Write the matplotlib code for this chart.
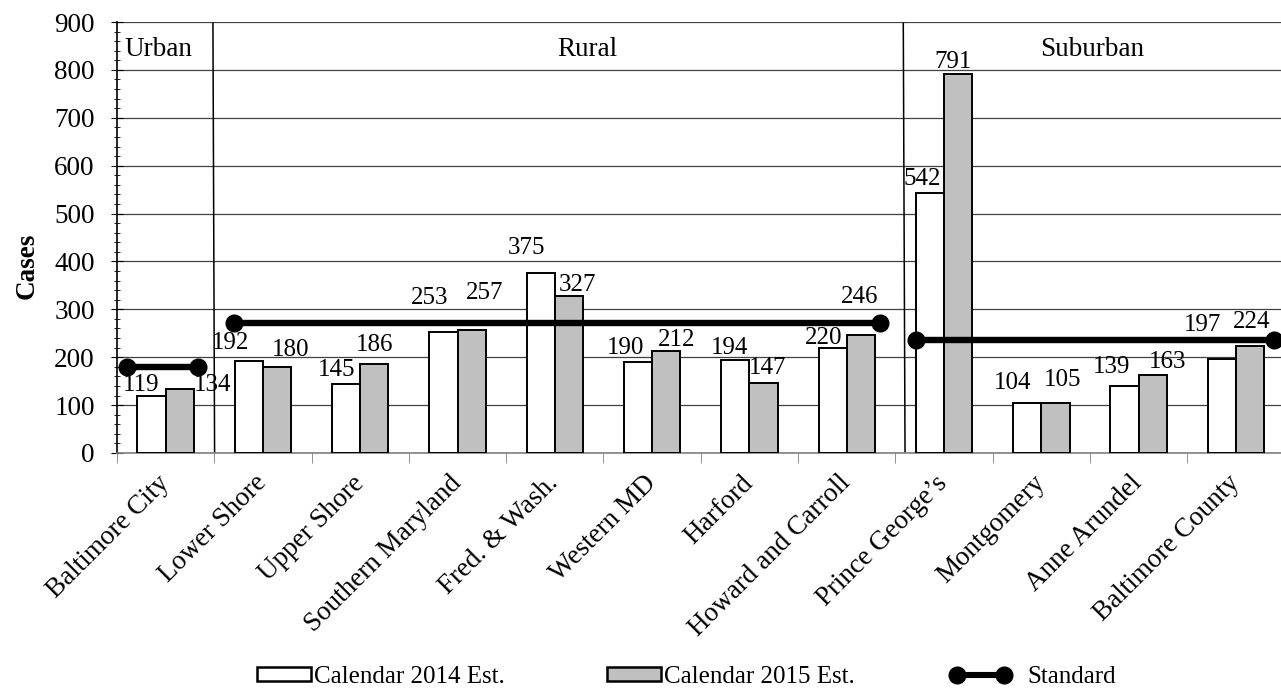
import numpy as np
import matplotlib
matplotlib.use("Agg")
import matplotlib.pyplot as plt
from matplotlib.patches import Patch
from matplotlib.lines import Line2D

plt.rcParams['font.family'] = ['Liberation Serif', 'DejaVu Serif']
FS_TICK = 19.5   # axis tick labels and group titles
FS_LABEL = 18    # value labels and legend

# --- data ---
regions = ["Baltimore City", "Lower Shore", "Upper Shore", "Southern Maryland",
           "Fred. & Wash.", "Western MD", "Harford", "Howard and Carroll",
           "Prince George\u2019s", "Montgomery", "Anne Arundel", "Baltimore County"]
est_2014 = [119, 192, 145, 253, 375, 190, 194, 220, 542, 104, 139, 197]
est_2015 = [134, 180, 186, 257, 327, 212, 147, 246, 791, 105, 163, 224]

groups = ["Urban", "Rural", "Suburban"]
standard = [180, 271, 237]
# span of each standard line along the category axis
standard_x = [(-0.40, 0.336), (0.706, 7.34), (7.708, 11.39)]

# label nudges in pixels (dx, dy) from the top centre of each bar
off_2014 = [(-10, 11), (-18, 18), (-10, 14), (-14, 34), (-14, 25), (-12, 14),
            (-6, 12), (-9, 10), (-8, 14), (-15, 20), (-13, 19), (-19, 34)]
off_2015 = [(33, 4), (14, 17), (0, 19), (13, 37), (9, 11), (10, 11),
            (4, 15), (-1, 38), (-5, 12), (7, 23), (15, 13), (2, 24)]

# group title positions and separators
group_label_x = [-0.07, 4.33, 9.52]
separators = [(0.503, 0.486), (7.599, 7.581)]

W, H = 1281, 688
fig = plt.figure(figsize=(W / 100, H / 100), dpi=100)
ax = fig.add_axes([117 / W, 1 - 453 / H, 12 * 97.3 / W, (453 - 22) / H])

x = np.arange(len(regions))
bw = 0.29
ax.bar(x - bw / 2, est_2014, bw, color="white", edgecolor="black", linewidth=1.4, zorder=3)
ax.bar(x + bw / 2, est_2015, bw, color="#C0C0C0", edgecolor="black", linewidth=1.4, zorder=3)

for i in range(len(regions)):
    ax.annotate(str(est_2014[i]), (x[i] - bw / 2, est_2014[i]), xytext=off_2014[i],
                textcoords="offset pixels", ha="center", va="center", fontsize=FS_LABEL, zorder=5)
    ax.annotate(str(est_2015[i]), (x[i] + bw / 2, est_2015[i]), xytext=off_2015[i],
                textcoords="offset pixels", ha="center", va="center", fontsize=FS_LABEL, zorder=5)

for val, (x0, x1) in zip(standard, standard_x):
    ax.plot([x0, x1], [val, val], color="black", linewidth=4.6, marker="o",
            markersize=12, zorder=6, clip_on=False)

for xb, xt in separators:
    ax.plot([xb, xt], [0, 897], color="black", linewidth=1.1, zorder=2)

for name, gx in zip(groups, group_label_x):
    ax.text(gx, 842, name, ha="center", va="center", fontsize=FS_TICK)

ax.set_xlim(-0.5, len(regions) - 0.5)
ax.set_ylim(0, 900)
ax.set_yticks(np.arange(0, 901, 100))
ax.set_yticks(np.arange(0, 901, 20), minor=True)
ax.yaxis.grid(True, which="major", color="#404040", linewidth=0.9, zorder=0)
ax.set_axisbelow(True)

ax.set_xticks(x)
ax.set_xticks(np.arange(-0.5, len(regions)), minor=True)
ax.set_xticklabels(regions, rotation=45, ha="right", va="center",
                   rotation_mode="anchor", fontsize=FS_TICK)
ax.tick_params(axis="x", which="major", length=0, pad=19)
ax.tick_params(axis="x", which="minor", length=7, direction="out", color="#808080")
ax.tick_params(axis="y", which="major", length=8, direction="inout", labelsize=FS_TICK, pad=12)
ax.tick_params(axis="y", which="minor", length=5, direction="inout")

for side in ["top", "right"]:
    ax.spines[side].set_visible(False)
ax.spines["left"].set_linewidth(1.2)
ax.spines["bottom"].set_color("#808080")
ax.spines["bottom"].set_linewidth(1.2)

fig.text(27 / W, 1 - 266 / H, "Cases", rotation=90, ha="center", va="center",
         fontsize=FS_TICK, fontweight="bold")

# legend: the two bar series, then the standard line on its own
bar_handles = [
    Patch(facecolor="white", edgecolor="black", linewidth=1.8),
    Patch(facecolor="#C0C0C0", edgecolor="black", linewidth=1.8),
]
fig.legend(bar_handles, ["Calendar 2014 Est.", "Calendar 2015 Est."],
           loc="center", bbox_to_anchor=(556 / W, 1 - 677 / H), ncol=2, frameon=False,
           fontsize=FS_LABEL, handlelength=2.15, handleheight=0.5, handletextpad=0.12,
           columnspacing=4.1, borderpad=0, borderaxespad=0)
std_handle = Line2D([0], [0], color="black", linewidth=4.4, marker="o", markersize=12)
fig.legend([std_handle], ["Standard"], loc="center", bbox_to_anchor=(1033 / W, 1 - 677 / H),
           frameon=False, fontsize=FS_LABEL, handlelength=2.48, handletextpad=0.62,
           numpoints=2, borderpad=0, borderaxespad=0)

fig.savefig("out.png", dpi=100)
